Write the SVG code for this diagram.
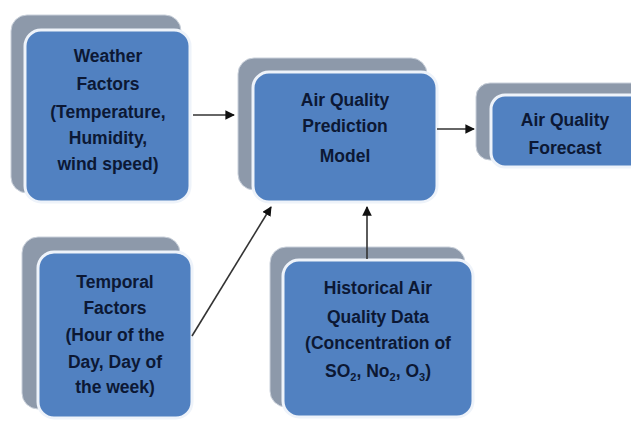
<svg xmlns="http://www.w3.org/2000/svg" width="631" height="421" viewBox="0 0 631 421">
<style>
.back{fill:#8d99aa;stroke:#c9d0da;stroke-width:1}
.front{fill:#5181c1;stroke:#eef3fa;stroke-width:3}
.t{font-family:"Liberation Sans",Arial,sans-serif;font-weight:bold;font-size:17.5px;fill:#0c1834;text-anchor:middle}
.c{stroke:#333;stroke-width:1.6;fill:none;marker-end:url(#ah)}
</style>
<defs>
<marker id="ah" viewBox="0 0 10 10" refX="9" refY="5" markerWidth="6" markerHeight="6" orient="auto" markerUnits="strokeWidth">
<path d="M0,0 L10,5 L0,10 z" fill="#111"/>
</marker>
</defs>
<rect width="631" height="421" fill="#fff"/>
<g id="weather">
<rect class="back" x="11" y="15" width="170" height="178" rx="16"/>
<rect class="front" x="25" y="30" width="165" height="172" rx="16"/>
<text class="t" x="108" y="62">Weather</text>
<text class="t" x="108" y="90">Factors</text>
<text class="t" x="108" y="118">(Temperature,</text>
<text class="t" x="108" y="144">Humidity,</text>
<text class="t" x="108" y="170">wind speed)</text>
</g>
<g id="model">
<rect class="back" x="238" y="58" width="189" height="132" rx="16"/>
<rect class="front" x="253" y="72" width="184" height="130" rx="16"/>
<text class="t" x="345" y="106">Air Quality</text>
<text class="t" x="345" y="132">Prediction</text>
<text class="t" x="345" y="162">Model</text>
</g>
<g id="forecast">
<rect class="back" x="476" y="83" width="170" height="77" rx="14"/>
<rect class="front" x="491" y="95" width="160" height="72" rx="14"/>
<text class="t" x="565" y="126">Air Quality</text>
<text class="t" x="565" y="154">Forecast</text>
</g>
<g id="temporal">
<rect class="back" x="22" y="237" width="158" height="172" rx="16"/>
<rect class="front" x="38" y="252" width="154" height="166" rx="16"/>
<text class="t" x="115" y="288">Temporal</text>
<text class="t" x="115" y="314">Factors</text>
<text class="t" x="115" y="341">(Hour of the</text>
<text class="t" x="115" y="368">Day, Day of</text>
<text class="t" x="115" y="393">the week)</text>
</g>
<g id="historical">
<rect class="back" x="270" y="247" width="195" height="160" rx="16"/>
<rect class="front" x="283" y="260" width="190" height="157" rx="16"/>
<text class="t" x="378" y="294">Historical Air</text>
<text class="t" x="378" y="323">Quality Data</text>
<text class="t" x="378" y="349">(Concentration of</text>
<text class="t" x="378" y="377">SO<tspan font-size="11" dy="4">2</tspan><tspan dy="-4">, No</tspan><tspan font-size="11" dy="4">2</tspan><tspan dy="-4">, O</tspan><tspan font-size="11" dy="4">3</tspan><tspan dy="-4">)</tspan></text>
</g>
<g id="connectors">
<line class="c" x1="193" y1="115" x2="234" y2="115"/>
<line class="c" x1="437" y1="129" x2="474" y2="129"/>
<line class="c" x1="192" y1="336" x2="271" y2="207"/>
<line class="c" x1="367" y1="259" x2="367" y2="207"/>
</g>
</svg>
